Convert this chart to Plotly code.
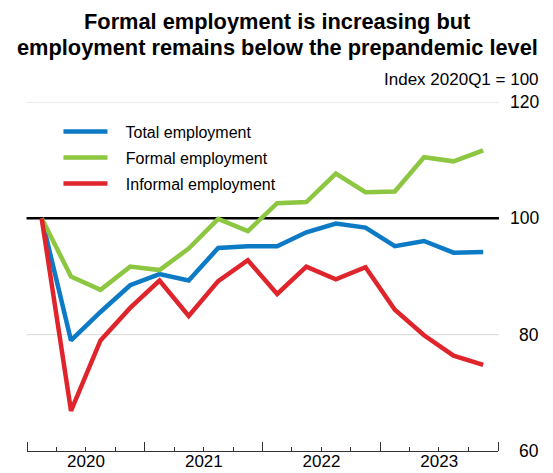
import pandas as pd
import plotly.graph_objects as go

quarters = ["2020Q1", "2020Q2", "2020Q3", "2020Q4", "2021Q1", "2021Q2", "2021Q3", "2021Q4",
            "2022Q1", "2022Q2", "2022Q3", "2022Q4", "2023Q1", "2023Q2", "2023Q3", "2023Q4"]
total = [100, 79.0, 83.9, 88.5, 90.4, 89.3, 94.9, 95.2, 95.2, 97.6, 99.1, 98.4, 95.2, 96.1, 94.1, 94.2]
formal = [100, 90.0, 87.7, 91.7, 91.1, 94.8, 99.9, 97.8, 102.6, 102.8, 107.7, 104.5, 104.6, 110.5, 109.8, 111.7]
informal = [100, 66.9, 79.0, 84.6, 89.3, 83.2, 89.2, 92.8, 87.0, 91.7, 89.5, 91.6, 84.3, 79.9, 76.4, 74.8]
series_names = ["Total employment", "Formal employment", "Informal employment"]
colors = ["#0C7AC5", "#8DC641", "#E0242B"]
y_ticks = [60, 80, 100, 120]
grid_vals = [80, 120]
ref_val = 100
title_lines = ["Formal employment is increasing but", "employment remains below the prepandemic level"]
unit_label = "Index 2020Q1 = 100"

periods = pd.PeriodIndex(quarters, freq="Q")
x = [p.start_time + (p.end_time - p.start_time) / 2 for p in periods]

FONT = "Liberation Sans, Arial, sans-serif"
fig = go.Figure()
for i, (name, vals, col) in enumerate(zip(series_names, [total, formal, informal], colors)):
    fig.add_trace(go.Scatter(x=x, y=vals, mode="lines", name="   " + name,
                             line=dict(color=col, width=4.5), legendgroup=f"g{i}", showlegend=True))

L, R, T, B = 26.5, 55, 102, 22
W, H = 553, 473
pw = W - L - R
ph = H - T - B

shapes = []
for g in grid_vals:
    shapes.append(dict(type="line", xref="paper", yref="y", x0=-0.001, x1=1.002, y0=g, y1=g,
                       line=dict(color="#D9D9D9", width=1), layer="below"))
shapes.append(dict(type="line", xref="paper", yref="y", x0=-0.001, x1=1.002, y0=ref_val, y1=ref_val,
                   line=dict(color="#000000", width=2.5), layer="below"))

annotations = []
lab_x = (541 - L) / pw
for t in y_ticks:
    annotations.append(dict(xref="paper", yref="y", x=lab_x, y=t, text=str(t), showarrow=False,
                            xanchor="right", yanchor="middle", font=dict(size=17.5, color="#000", family=FONT)))
annotations.append(dict(xref="paper", yref="paper", x=lab_x, y=(H - B - 80) / ph, text=unit_label,
                        showarrow=False, xanchor="right", yanchor="middle",
                        font=dict(size=17, color="#000", family=FONT)))
for line_text, ypx in zip(title_lines, [21, 47]):
    annotations.append(dict(xref="paper", yref="paper", x=(277 - L) / pw, y=(H - B - ypx) / ph,
                            text=f"<b>{line_text}</b>", showarrow=False,
                            xanchor="center", yanchor="middle",
                            font=dict(size=21.8, color="#000", family=FONT)))

fig.update_layout(
    width=W, height=H,
    margin=dict(l=L, r=R, t=T, b=B, pad=0, autoexpand=False),
    paper_bgcolor="white", plot_bgcolor="white",
    font=dict(family=FONT, color="#000"),
    showlegend=True,
    xaxis=dict(type="date", range=["2020-01-01", "2024-01-01"], tick0="2020-01-01", dtick="M12",
               tickformat="%Y", ticklabelmode="period", ticks="inside", ticklen=9, tickwidth=1,
               tickcolor="#333", showline=True, linecolor="#333", linewidth=1, showgrid=False,
               zeroline=False, automargin=False, ticklabelstandoff=-5,
               tickfont=dict(size=17, color="#000", family=FONT),
               minor=dict(dtick="M3", tick0="2020-01-01", ticks="inside", ticklen=4, tickwidth=1,
                          tickcolor="#333", showgrid=False)),
    yaxis=dict(range=[60, 120], side="right", showticklabels=False, ticks="", showgrid=False,
               zeroline=False, showline=False, automargin=False),
    shapes=shapes, annotations=annotations,
    legend=dict(x=(58 - L) / pw, xanchor="left", y=(H - B - 114.5) / ph, yanchor="top",
                bgcolor="rgba(0,0,0,0)", font=dict(size=16, color="#000", family=FONT),
                itemwidth=44, tracegroupgap=2.3, traceorder="grouped"),
)

fig.write_html("out.html", config={"displayModeBar": False},
               post_script="document.body.style.margin='0';document.body.style.overflow='hidden';")
